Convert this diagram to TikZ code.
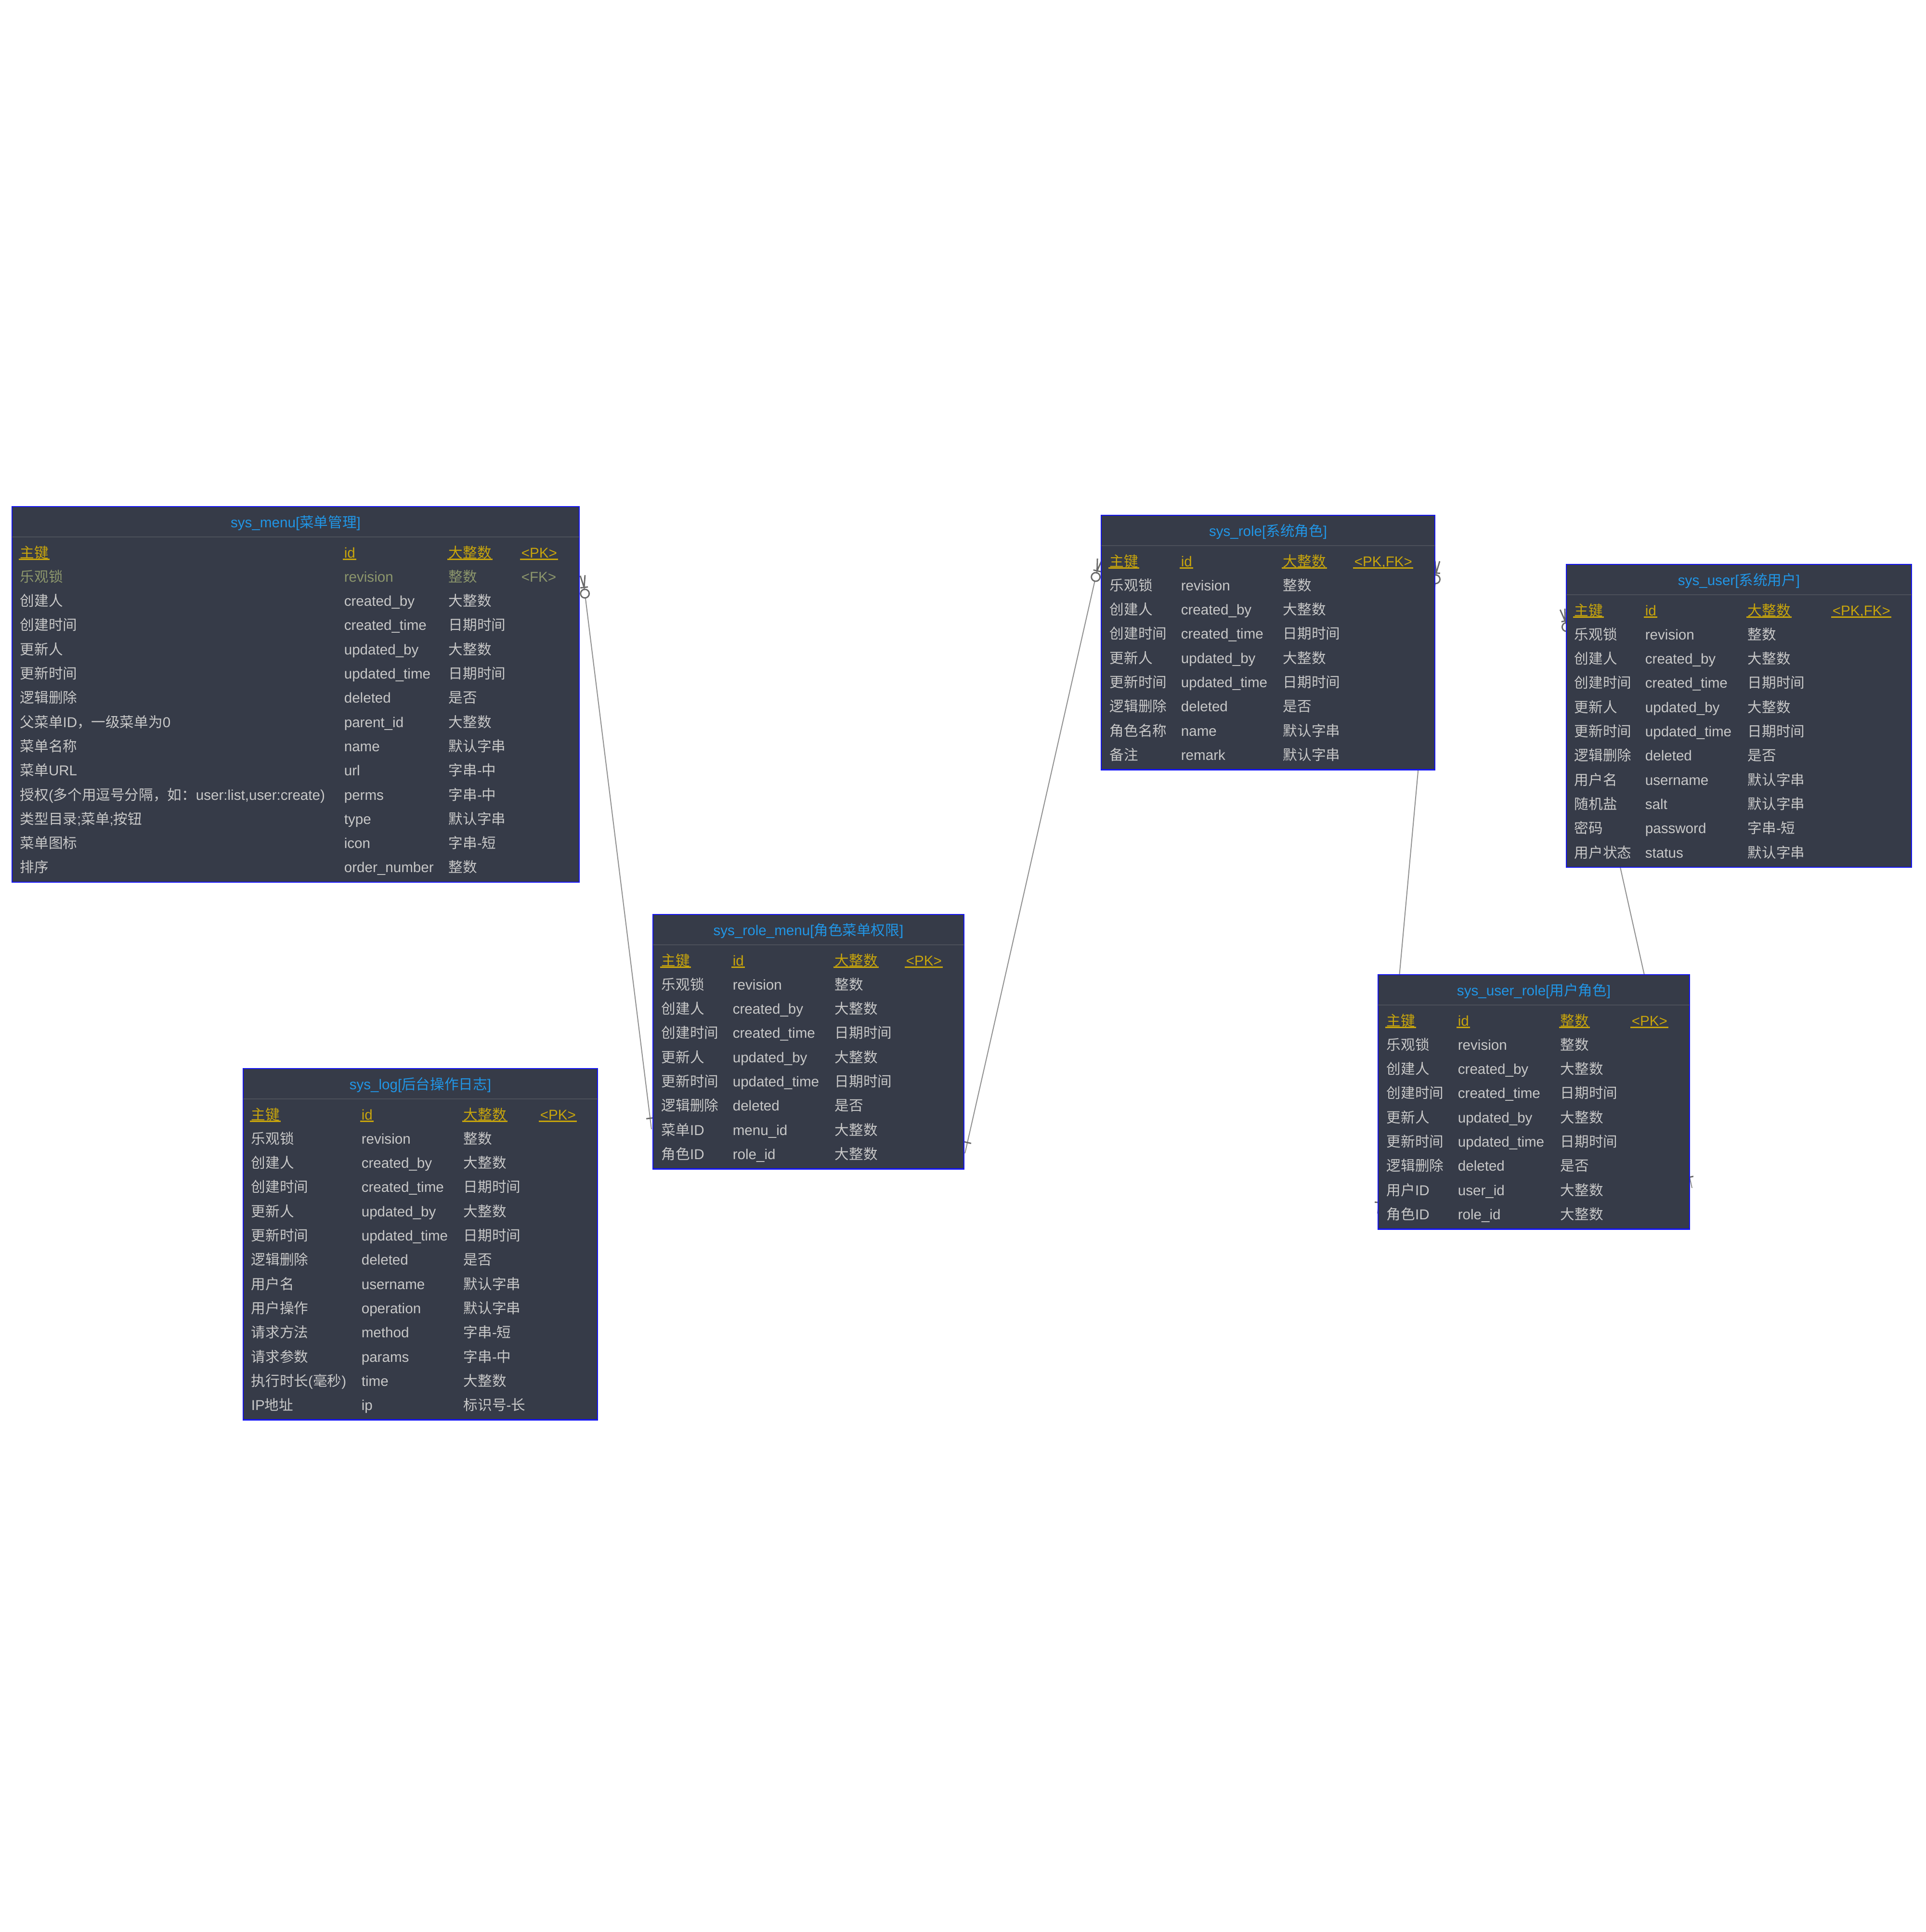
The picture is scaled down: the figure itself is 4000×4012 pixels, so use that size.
\documentclass[tikz,border=0pt]{standalone}
\usepackage{fontspec}
\setmainfont{Liberation Sans}
\newfontfamily\zhfont{Noto Sans CJK SC}
\newcommand\zh[1]{{\zhfont #1}}
\usetikzlibrary{calc}
\pgfdeclarelayer{paper}
\pgfdeclarelayer{back}
\pgfsetlayers{paper,back,main}
\definecolor{boxfill}{RGB}{54,59,72}
\definecolor{boxline}{RGB}{20,20,245}
\definecolor{sepcol}{RGB}{76,80,90}
\definecolor{titlecol}{RGB}{33,150,230}
\definecolor{keycol}{RGB}{200,165,12}
\definecolor{txtcol}{RGB}{200,200,200}
\definecolor{fkcol}{RGB}{140,150,108}
\definecolor{conncol}{RGB}{145,145,145}
\definecolor{markcol}{RGB}{105,105,105}
\tikzset{
  tblbox/.style={rectangle, draw=boxline, fill=boxfill, line width=0.7pt, inner sep=0pt, outer sep=0pt},
  sepline/.style={draw=sepcol, line width=0.6pt},
  titletext/.style={text=titlecol, inner sep=0pt, font=\fontsize{7.4pt}{9pt}\selectfont},
  cell/.style={text=txtcol, inner sep=0pt, anchor=base west, font=\fontsize{7.4pt}{9pt}\selectfont},
  keycell/.style={cell, text=keycol},
  fkcell/.style={cell, text=fkcol},
  keyline/.style={draw=keycol, line width=0.6pt},
  conn/.style={draw=conncol, line width=0.5pt},
  erm/.style={draw=markcol, line width=0.7pt},
}
% table box: name, left, top, right, nrows, title
\newcommand\ertbl[6]{%
  \pgfmathsetmacro\erw{(#4-#2)*0.25}%
  \pgfmathsetmacro\erh{(126+(#5-1)*50.3)*0.25}%
  \node[tblbox, anchor=north west, minimum width=\erw pt, minimum height=\erh pt] (#1) at (#2,#3) {};
  \draw[sepline] ($(#1.north west)+(0,63)$) -- ($(#1.north east)+(0,63)$);
  \node[titletext, anchor=base] (#1-t) at ($(#1.north)+(0,43)$) {#6};
}
% normal row: tbl, idx, a, b, c
\newcommand\errow[5]{%
  \pgfmathsetmacro\ry{\ctop+106+(#2-1)*50.3}%
  \node[cell] (#1-#2-a) at (\ca,\ry) {#3};
  \node[cell] (#1-#2-b) at (\cb,\ry) {#4};
  \node[cell] (#1-#2-c) at (\cc,\ry) {#5};
}
% key row: tbl, idx, a, b, c, d
\newcommand\erkey[6]{%
  \pgfmathsetmacro\ry{\ctop+106+(#2-1)*50.3}%
  \node[keycell] (#1-#2-a) at (\ca,\ry) {#3};
  \node[keycell] (#1-#2-b) at (\cb,\ry) {#4};
  \node[keycell] (#1-#2-c) at (\cc,\ry) {#5};
  \node[keycell] (#1-#2-d) at (\cd,\ry) {#6};
  \foreach \k in {a,b,c,d}{
    \draw[keyline] ([yshift=-0.9pt,xshift=-0.4pt]#1-#2-\k.base west) -- ([yshift=-0.9pt,xshift=0.4pt]#1-#2-\k.base east);
  }
}
% connector: many end #1, one end #2
\newcommand\erlink[2]{%
  \coordinate (#1-c) at ($(#1)!6.25pt!(#2)$);
  \coordinate (#1-o) at ($(#1)!9.5pt!(#2)$);
  \coordinate (#1-s) at ($(#1)!11.75pt!(#2)$);
  \coordinate (#2-c) at ($(#2)!5.75pt!(#1)$);
  \draw[conn] (#1-s) -- (#2);
  \draw[erm] ($(#1)!1.25pt!90:(#2)$) -- (#1-c) -- ($(#1)!1.25pt!-90:(#2)$);
  \draw[erm] ($(#1-c)!2pt!90:(#2)$) -- ($(#1-c)!2pt!-90:(#2)$);
  \draw[erm] (#1-o) circle[radius=2.25pt];
  \draw[erm] ($(#2-c)!2pt!90:(#1)$) -- ($(#2-c)!2pt!-90:(#1)$);
}
\begin{document}
\begin{tikzpicture}[x=0.25pt,y=-0.25pt]
\begin{pgfonlayer}{paper}
\fill[white] (0,0) rectangle (4000,4012);
\end{pgfonlayer}
\path[use as bounding box] (0,0) rectangle (4000,4012);

% ---------- sys_menu ----------
\ertbl{menu}{25}{1052}{1203}{14}{sys\_menu[\zh{菜单管理}]}
\def\ctop{1052}\def\ca{41}\def\cb{714}\def\cc{931}\def\cd{1082}
\erkey{menu}{1}{\zh{主键}}{id}{\zh{大整数}}{<PK>}
\pgfmathsetmacro\ry{\ctop+106+50.3}
\node[fkcell] (menu-2-a) at (\ca,\ry) {\zh{乐观锁}};
\node[fkcell] (menu-2-b) at (\cb,\ry) {revision};
\node[fkcell] (menu-2-c) at (\cc,\ry) {\zh{整数}};
\node[fkcell] (menu-2-d) at (\cd,\ry) {<FK>};
\errow{menu}{3}{\zh{创建人}}{created\_by}{\zh{大整数}}
\errow{menu}{4}{\zh{创建时间}}{created\_time}{\zh{日期时间}}
\errow{menu}{5}{\zh{更新人}}{updated\_by}{\zh{大整数}}
\errow{menu}{6}{\zh{更新时间}}{updated\_time}{\zh{日期时间}}
\errow{menu}{7}{\zh{逻辑删除}}{deleted}{\zh{是否}}
\errow{menu}{8}{\zh{父菜单}ID\zh{，一级菜单为}0}{parent\_id}{\zh{大整数}}
\errow{menu}{9}{\zh{菜单名称}}{name}{\zh{默认字串}}
\errow{menu}{10}{\zh{菜单}URL}{url}{\zh{字串}-\zh{中}}
\errow{menu}{11}{\zh{授权}(\zh{多个用逗号分隔，如：}user:list,user:create)}{perms}{\zh{字串}-\zh{中}}
\errow{menu}{12}{\zh{类型目录};\zh{菜单};\zh{按钮}}{type}{\zh{默认字串}}
\errow{menu}{13}{\zh{菜单图标}}{icon}{\zh{字串}-\zh{短}}
\errow{menu}{14}{\zh{排序}}{order\_number}{\zh{整数}}

% ---------- sys_role ----------
\ertbl{role}{2287}{1070}{2980}{9}{sys\_role[\zh{系统角色}]}
\def\ctop{1070}\def\ca{2304}\def\cb{2452}\def\cc{2664}\def\cd{2812}
\erkey{role}{1}{\zh{主键}}{id}{\zh{大整数}}{<PK,FK>}
\errow{role}{2}{\zh{乐观锁}}{revision}{\zh{整数}}
\errow{role}{3}{\zh{创建人}}{created\_by}{\zh{大整数}}
\errow{role}{4}{\zh{创建时间}}{created\_time}{\zh{日期时间}}
\errow{role}{5}{\zh{更新人}}{updated\_by}{\zh{大整数}}
\errow{role}{6}{\zh{更新时间}}{updated\_time}{\zh{日期时间}}
\errow{role}{7}{\zh{逻辑删除}}{deleted}{\zh{是否}}
\errow{role}{8}{\zh{角色名称}}{name}{\zh{默认字串}}
\errow{role}{9}{\zh{备注}}{remark}{\zh{默认字串}}

% ---------- sys_user ----------
\ertbl{user}{3253}{1172}{3970}{11}{sys\_user[\zh{系统用户}]}
\def\ctop{1172}\def\ca{3269}\def\cb{3416}\def\cc{3629}\def\cd{3805}
\erkey{user}{1}{\zh{主键}}{id}{\zh{大整数}}{<PK,FK>}
\errow{user}{2}{\zh{乐观锁}}{revision}{\zh{整数}}
\errow{user}{3}{\zh{创建人}}{created\_by}{\zh{大整数}}
\errow{user}{4}{\zh{创建时间}}{created\_time}{\zh{日期时间}}
\errow{user}{5}{\zh{更新人}}{updated\_by}{\zh{大整数}}
\errow{user}{6}{\zh{更新时间}}{updated\_time}{\zh{日期时间}}
\errow{user}{7}{\zh{逻辑删除}}{deleted}{\zh{是否}}
\errow{user}{8}{\zh{用户名}}{username}{\zh{默认字串}}
\errow{user}{9}{\zh{随机盐}}{salt}{\zh{默认字串}}
\errow{user}{10}{\zh{密码}}{password}{\zh{字串}-\zh{短}}
\errow{user}{11}{\zh{用户状态}}{status}{\zh{默认字串}}

% ---------- sys_role_menu ----------
\ertbl{rolemenu}{1356}{1899}{2002}{9}{sys\_role\_menu[\zh{角色菜单权限}]}
\def\ctop{1899}\def\ca{1373}\def\cb{1521}\def\cc{1733}\def\cd{1881}
\erkey{rolemenu}{1}{\zh{主键}}{id}{\zh{大整数}}{<PK>}
\errow{rolemenu}{2}{\zh{乐观锁}}{revision}{\zh{整数}}
\errow{rolemenu}{3}{\zh{创建人}}{created\_by}{\zh{大整数}}
\errow{rolemenu}{4}{\zh{创建时间}}{created\_time}{\zh{日期时间}}
\errow{rolemenu}{5}{\zh{更新人}}{updated\_by}{\zh{大整数}}
\errow{rolemenu}{6}{\zh{更新时间}}{updated\_time}{\zh{日期时间}}
\errow{rolemenu}{7}{\zh{逻辑删除}}{deleted}{\zh{是否}}
\errow{rolemenu}{8}{\zh{菜单}ID}{menu\_id}{\zh{大整数}}
\errow{rolemenu}{9}{\zh{角色}ID}{role\_id}{\zh{大整数}}

% ---------- sys_user_role ----------
\ertbl{userrole}{2862}{2024}{3509}{9}{sys\_user\_role[\zh{用户角色}]}
\def\ctop{2024}\def\ca{2879}\def\cb{3027}\def\cc{3240}\def\cd{3388}
\erkey{userrole}{1}{\zh{主键}}{id}{\zh{整数}}{<PK>}
\errow{userrole}{2}{\zh{乐观锁}}{revision}{\zh{整数}}
\errow{userrole}{3}{\zh{创建人}}{created\_by}{\zh{大整数}}
\errow{userrole}{4}{\zh{创建时间}}{created\_time}{\zh{日期时间}}
\errow{userrole}{5}{\zh{更新人}}{updated\_by}{\zh{大整数}}
\errow{userrole}{6}{\zh{更新时间}}{updated\_time}{\zh{日期时间}}
\errow{userrole}{7}{\zh{逻辑删除}}{deleted}{\zh{是否}}
\errow{userrole}{8}{\zh{用户}ID}{user\_id}{\zh{大整数}}
\errow{userrole}{9}{\zh{角色}ID}{role\_id}{\zh{大整数}}

% ---------- sys_log ----------
\ertbl{log}{505}{2219}{1241}{13}{sys\_log[\zh{后台操作日志}]}
\def\ctop{2219}\def\ca{521}\def\cb{750}\def\cc{962}\def\cd{1121}
\erkey{log}{1}{\zh{主键}}{id}{\zh{大整数}}{<PK>}
\errow{log}{2}{\zh{乐观锁}}{revision}{\zh{整数}}
\errow{log}{3}{\zh{创建人}}{created\_by}{\zh{大整数}}
\errow{log}{4}{\zh{创建时间}}{created\_time}{\zh{日期时间}}
\errow{log}{5}{\zh{更新人}}{updated\_by}{\zh{大整数}}
\errow{log}{6}{\zh{更新时间}}{updated\_time}{\zh{日期时间}}
\errow{log}{7}{\zh{逻辑删除}}{deleted}{\zh{是否}}
\errow{log}{8}{\zh{用户名}}{username}{\zh{默认字串}}
\errow{log}{9}{\zh{用户操作}}{operation}{\zh{默认字串}}
\errow{log}{10}{\zh{请求方法}}{method}{\zh{字串}-\zh{短}}
\errow{log}{11}{\zh{请求参数}}{params}{\zh{字串}-\zh{中}}
\errow{log}{12}{\zh{执行时长}(\zh{毫秒})}{time}{\zh{大整数}}
\errow{log}{13}{IP\zh{地址}}{ip}{\zh{标识号}-\zh{长}}

% ---------- connectors (behind the tables) ----------
\begin{pgfonlayer}{back}
\coordinate (m1) at ($(menu.north east)+(7,143)$);
\coordinate (o1) at ($(rolemenu.north west)+(-3,446)$);
\coordinate (m2) at ($(role.north west)+(-3,91)$);
\coordinate (o2) at ($(rolemenu.north east)+(2,496)$);
\coordinate (m3) at ($(role.north east)+(5,95)$);
\coordinate (o3) at ($(userrole.north west)+(-1,496)$);
\coordinate (m4) at ($(user.north west)+(-8,93)$);
\coordinate (o4) at ($(userrole.north east)+(5,443)$);
\erlink{m1}{o1}
\erlink{m2}{o2}
\erlink{m3}{o3}
\erlink{m4}{o4}
\end{pgfonlayer}
\end{tikzpicture}
\end{document}
